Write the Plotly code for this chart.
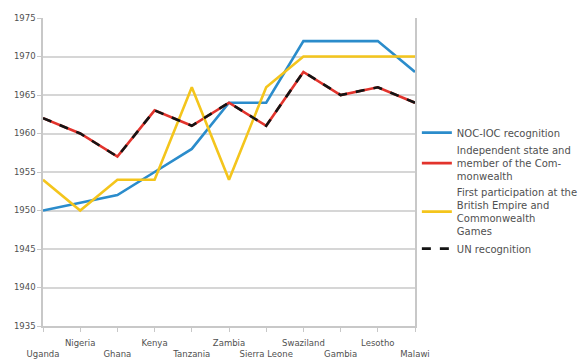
import plotly.graph_objects as go

# Countries along the x axis
countries = ["Uganda", "Nigeria", "Ghana", "Kenya", "Tanzania", "Zambia",
             "Sierra Leone", "Swaziland", "Gambia", "Lesotho", "Malawi"]

# Year of each milestone per country
noc_ioc = [1950, 1951, 1952, 1955, 1958, 1964, 1964, 1972, 1972, 1972, 1968]
independence = [1962, 1960, 1957, 1963, 1961, 1964, 1961, 1968, 1965, 1966, 1964]
first_games = [1954, 1950, 1954, 1954, 1966, 1954, 1966, 1970, 1970, 1970, 1970]
un_recognition = [1962, 1960, 1957, 1963, 1961, 1964, 1961, 1968, 1965, 1966, 1964]

# Series names as shown in the legend
names = ["NOC-IOC recognition",
         "Independent state and<br>member of the Com-<br>monwealth",
         "First participation at the<br>British Empire and<br>Commonwealth<br>Games",
         "UN recognition"]

y_ticks = [1935, 1940, 1945, 1950, 1955, 1960, 1965, 1970, 1975]

# Staggered category labels: every other label sits on a second row
tick_text = [c if i % 2 else "<br>" + c for i, c in enumerate(countries)]

FONT = "DejaVu Sans, Verdana, sans-serif"

fig = go.Figure()
fig.add_trace(go.Scatter(x=countries, y=noc_ioc, mode="lines", name=names[0],
                         line=dict(color="#2b8ccb", width=2.6)))
fig.add_trace(go.Scatter(x=countries, y=independence, mode="lines", name=names[1],
                         line=dict(color="#e2332c", width=2.6)))
fig.add_trace(go.Scatter(x=countries, y=first_games, mode="lines", name=names[2],
                         line=dict(color="#f4c51c", width=2.6)))
fig.add_trace(go.Scatter(x=countries, y=un_recognition, mode="lines", name=names[3],
                         line=dict(color="#141414", width=2.6, dash="9px,9px")))

fig.update_layout(
    width=579, height=362,
    margin=dict(l=43, r=164, t=18, b=36, autoexpand=False),
    paper_bgcolor="white", plot_bgcolor="white",
    font=dict(family=FONT, size=9, color="#505050"),
    showlegend=True,
    legend=dict(x=1.005, y=0.675, xanchor="left", yanchor="top",
                font=dict(family=FONT, size=10, color="#505050"),
                itemwidth=30, tracegroupgap=2, bgcolor="rgba(0,0,0,0)"),
    xaxis=dict(
        tickmode="array", tickvals=countries, ticktext=tick_text,
        range=[0, len(countries) - 1],
        showgrid=False, showline=True, linecolor="#c8c8c8", linewidth=1.5,
        ticks="outside", ticklen=4, tickcolor="#c8c8c8",
        ticklabelstandoff=4, automargin=False,
        tickangle=0, tickfont=dict(family=FONT, size=8.5, color="#505050"),
        fixedrange=True,
    ),
    yaxis=dict(
        range=[1935, 1975], tickvals=y_ticks,
        showgrid=True, gridcolor="#d6d6d6", gridwidth=1.5,
        showline=True, linecolor="#c8c8c8", linewidth=1.5, mirror=True,
        ticks="outside", ticklen=4, tickcolor="#c8c8c8", automargin=False,
        tickfont=dict(family=FONT, size=8.5, color="#505050"),
        zeroline=False, fixedrange=True,
    ),
)

fig.write_html("out.html")
